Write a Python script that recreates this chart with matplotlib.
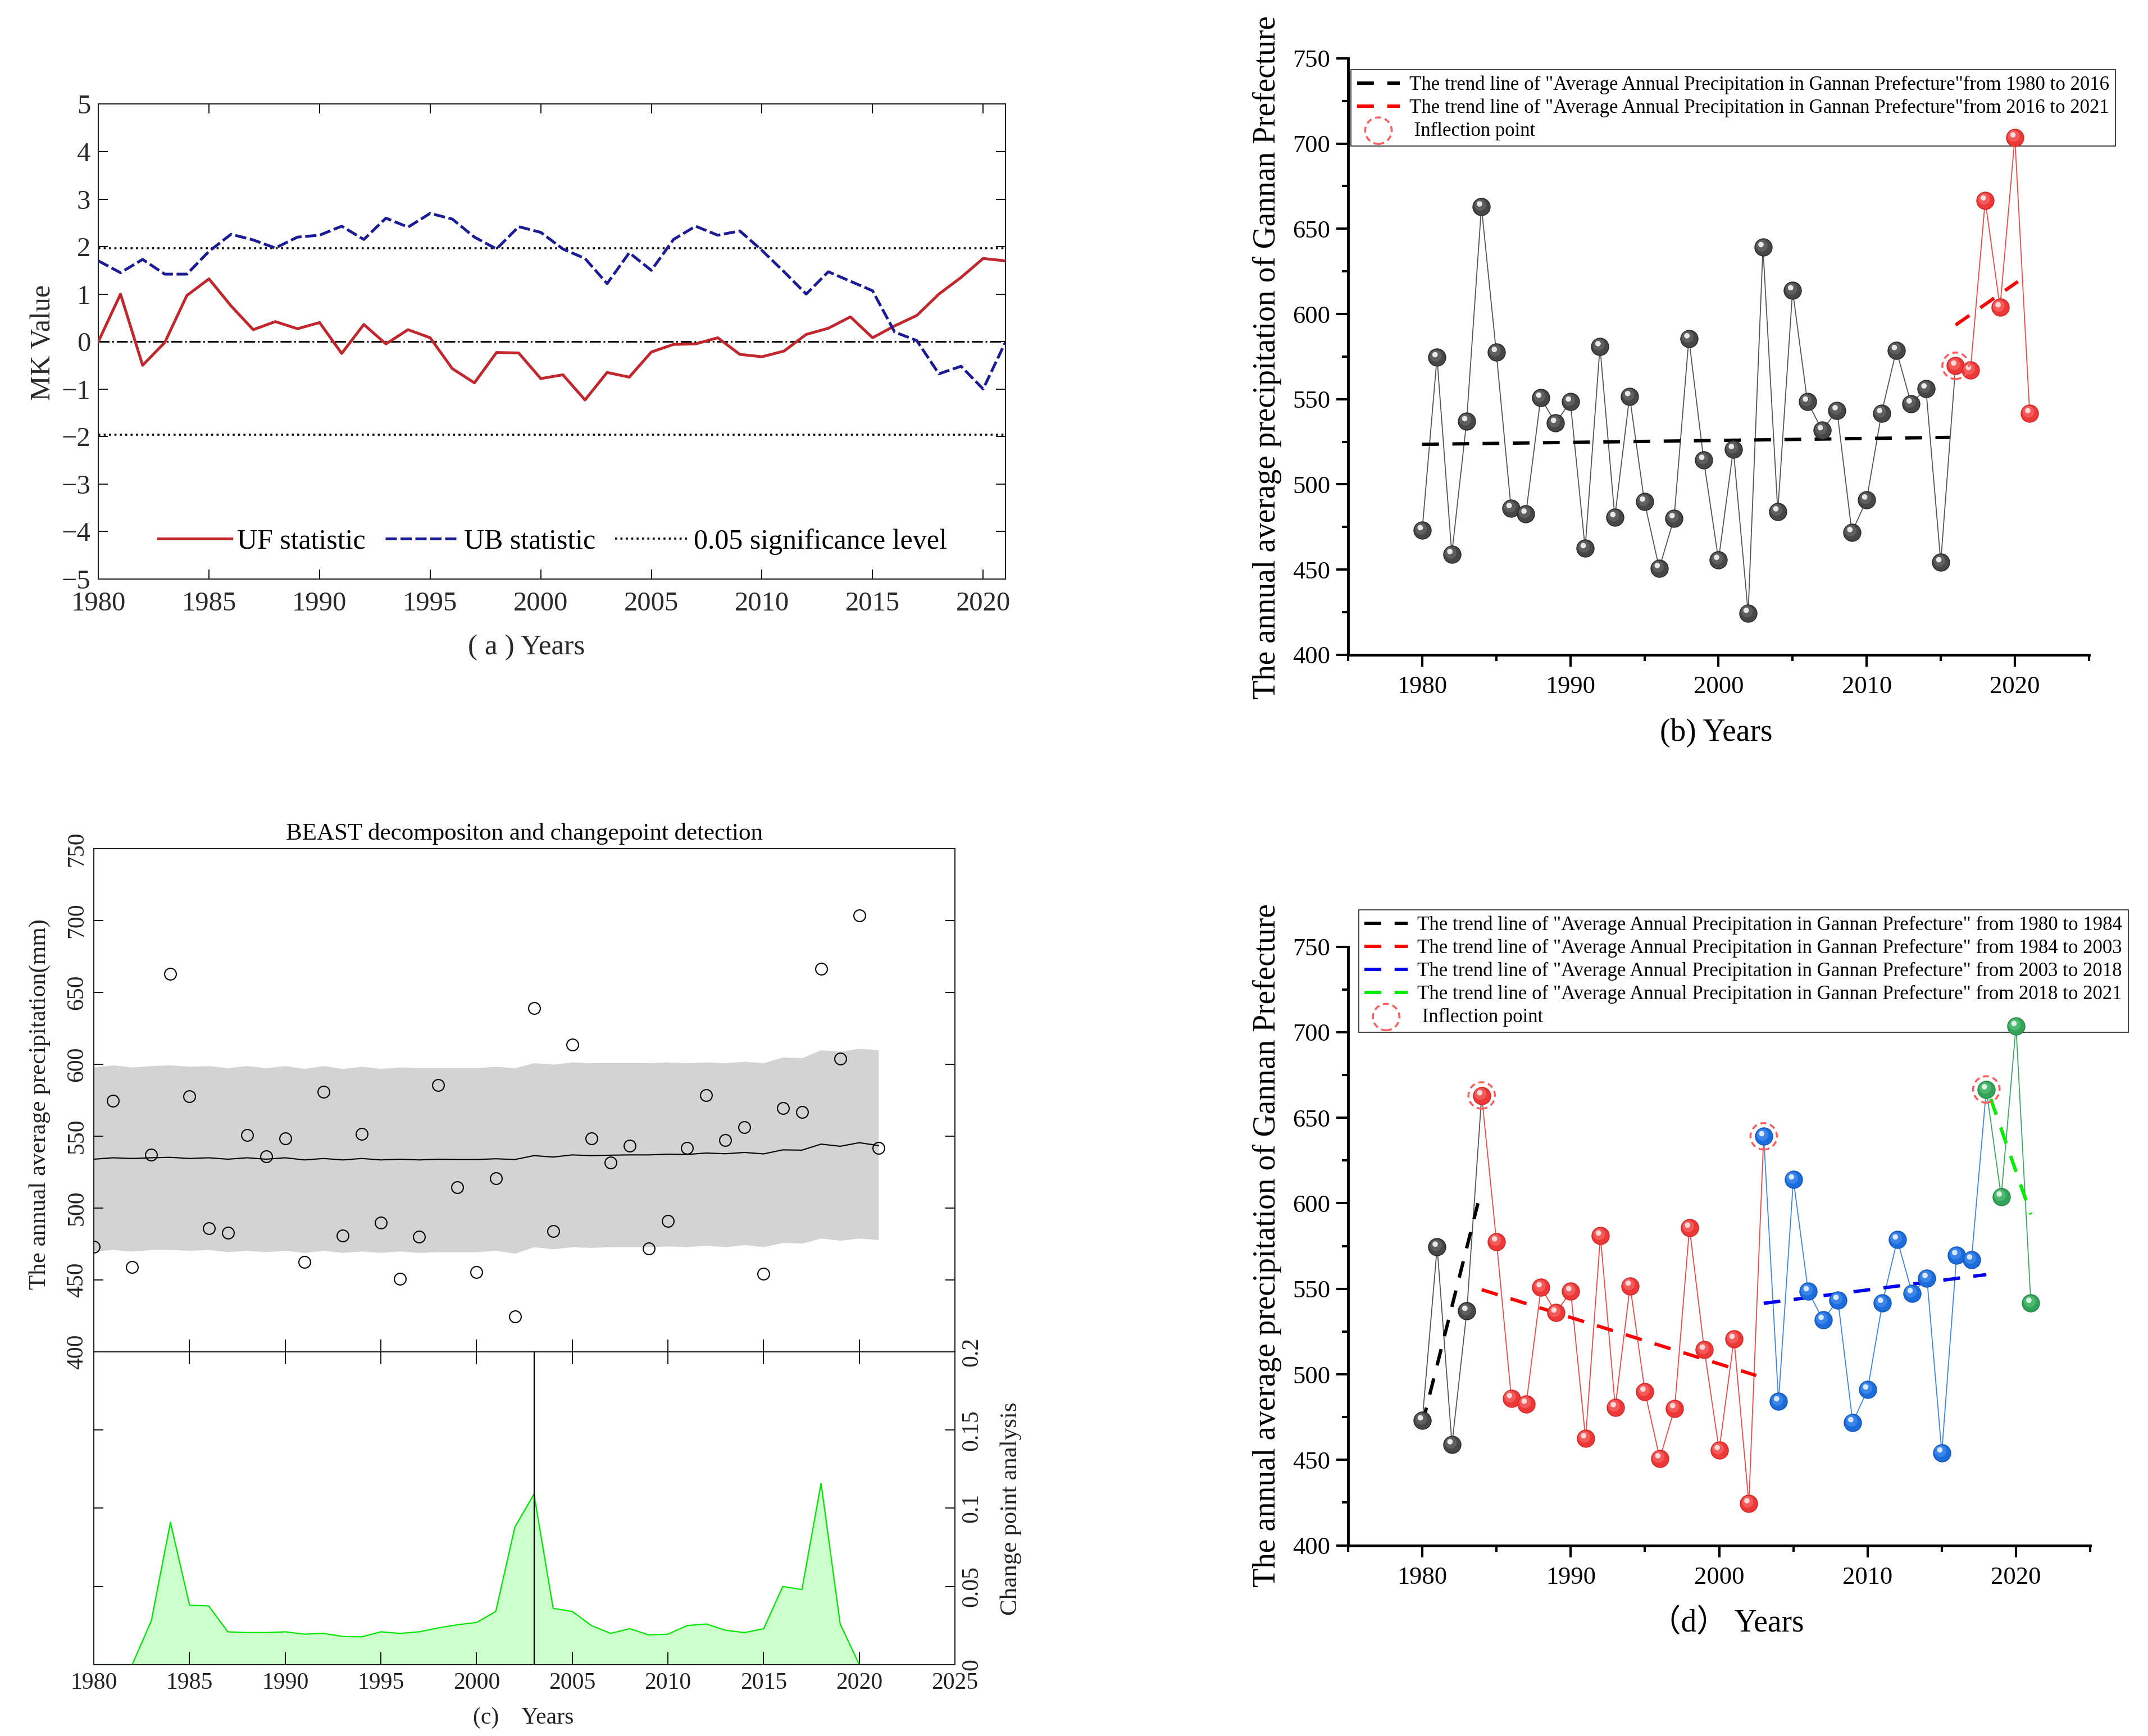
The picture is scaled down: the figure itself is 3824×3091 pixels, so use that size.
import matplotlib
matplotlib.use('Agg')
import matplotlib.pyplot as plt
from matplotlib.ticker import MultipleLocator
from matplotlib.transforms import offset_copy

plt.rcParams['font.family'] = ['Liberation Serif', 'Noto Sans CJK SC', 'DejaVu Sans']

# ---------------- data ----------------
years = list(range(1980, 2022))

precip = [473, 574.5, 459, 537, 663, 577.6, 486, 482.7, 550.8, 536,
          548.5, 462.5, 581, 480.7, 551.7, 489.8, 450.8, 480.1, 585.6, 514.3,
          455.6, 520.6, 424.5, 639.1, 484.1, 613.8, 548.5, 531.7, 543.4, 471.9,
          491, 541.7, 578.7, 547.4, 556.2, 454.2, 569.6, 567, 666.5, 603.8,
          703.5, 541.7]

uf_stat = [0.0, 1.0, -0.5, -0.02, 0.97, 1.32, 0.75, 0.25, 0.42, 0.27,
           0.40, -0.25, 0.36, -0.05, 0.25, 0.08, -0.57, -0.87, -0.23, -0.24,
           -0.78, -0.70, -1.23, -0.65, -0.75, -0.22, -0.06, -0.05, 0.08, -0.27,
           -0.32, -0.20, 0.15, 0.28, 0.52, 0.08, 0.33, 0.55, 1.0, 1.35,
           1.75, 1.70]
ub_stat = [1.70, 1.45, 1.73, 1.42, 1.42, 1.90, 2.26, 2.14, 1.97, 2.20,
           2.24, 2.43, 2.15, 2.60, 2.41, 2.70, 2.58, 2.20, 1.95, 2.42,
           2.30, 1.95, 1.75, 1.22, 1.87, 1.50, 2.15, 2.43, 2.24, 2.33,
           1.92, 1.47, 1.00, 1.47, 1.27, 1.07, 0.20, 0.02, -0.68, -0.52,
           -1.00, -0.02]
sig_level = 1.96

beast_trend = [534, 535, 534.5, 535, 535.3, 534.5, 535, 534, 535, 534,
               535, 533.5, 534.5, 533.5, 534.5, 533.5, 534, 533.5, 534, 533.8,
               533.8, 534.3, 533.8, 536.5, 535.5, 537, 536.5, 536.8, 537, 537,
               537.5, 537.3, 538.3, 537.8, 538.7, 537.7, 540.5, 540.3, 544.5, 543,
               545.5, 543.5]
beast_hi = [598, 599.5, 598, 599, 599.5, 598.5, 599, 597.5, 599, 597.5,
            599, 597, 599, 597, 598.5, 597, 598, 597.5, 597.5, 597.5,
            597.5, 598.5, 597.5, 601, 600, 601.5, 601, 601, 601, 601,
            601.5, 601, 601.5, 601, 602, 601, 605, 604.5, 610, 609,
            611, 610]
beast_lo = [470, 471, 470, 471, 471, 470.5, 471, 469.5, 470.5, 469.5,
            470.5, 469, 470.5, 469, 470, 469, 470, 469, 469.5, 469.5,
            469.5, 470.5, 468.5, 473, 471.5, 473, 472.5, 473, 473, 473,
            473.5, 473, 474, 473, 474.5, 473, 476, 475.5, 479, 477.5,
            479, 478]
cp_prob = [0, 0, 0, 0.028, 0.091, 0.038, 0.0375, 0.021, 0.0205, 0.0205,
           0.021, 0.0195, 0.020, 0.018, 0.0178, 0.021, 0.020, 0.021, 0.0235, 0.0255,
           0.027, 0.034, 0.088, 0.109, 0.036, 0.034, 0.025, 0.020, 0.023, 0.019,
           0.0195, 0.025, 0.026, 0.022, 0.0205, 0.023, 0.050, 0.048, 0.116, 0.026,
           0.0, 0.0]
cp_year = 2003

# panel (b) segmentation and trends
b_break = 2016
b_trend1_x, b_trend1_y = [1980, 2015.6], [523.5, 527.6]
b_trend2_x, b_trend2_y = [2016, 2020.2], [593.5, 619]
b_labels = ['The trend line of "Average Annual Precipitation in Gannan Prefecture"from 1980 to 2016',
            'The trend line of "Average Annual Precipitation in Gannan Prefecture"from 2016 to 2021',
            ' Inflection point']

# panel (d) segmentation and trends
d_breaks = [1980, 1984, 2003, 2018, 2021]
d_trend_x = [[1980, 1983.75], [1984, 2002.5], [2003, 2018], [2018.3, 2021]]
d_trend_y = [[471, 600], [549.5, 499.3], [541.5, 558.3], [661, 593.5]]
d_labels = ['The trend line of "Average Annual Precipitation in Gannan Prefecture" from 1980 to 1984',
            'The trend line of "Average Annual Precipitation in Gannan Prefecture" from 1984 to 2003',
            'The trend line of "Average Annual Precipitation in Gannan Prefecture" from 2003 to 2018',
            'The trend line of "Average Annual Precipitation in Gannan Prefecture" from 2018 to 2021',
            ' Inflection point']

# ---------------- figure ----------------
fig = plt.figure(figsize=(38.24, 30.91), dpi=100)

# ===== panel (a) =====
axa = fig.add_axes([0.0458, 0.6665, 0.4222, 0.2735])
axa.plot(years, uf_stat, color='#c1272d', lw=3.6, label='UF statistic', zorder=4)
axa.plot(years, ub_stat, color='#1b1b96', lw=3.6, dashes=(4, 1.3), label='UB statistic', zorder=4)
axa.axhline(sig_level, color='k', ls=':', lw=2.6, label='0.05 significance level')
axa.axhline(-sig_level, color='k', ls=':', lw=2.6)
axa.axhline(0, color='k', ls='-.', lw=2.2)
axa.set_xlim(1980, 2021)
axa.set_ylim(-5, 5)
axa.xaxis.set_major_locator(MultipleLocator(5))
axa.yaxis.set_major_locator(MultipleLocator(1))
axa.tick_params(direction='in', top=True, right=True, length=12, width=1.3,
                labelsize=35, labelcolor='#2a2a2a', pad=10)
axa.tick_params(axis='x', pad=16)
for sp in axa.spines.values():
    sp.set_linewidth(1.5)
    sp.set_color('#222222')
axa.legend(loc='center', bbox_to_anchor=(0.501, 0.079), ncol=3, frameon=False,
           fontsize=36, handlelength=2.6, columnspacing=0.7, handletextpad=0.2)
fig.text(0.020, 0.8027, 'MK Value', rotation=90, ha='center', va='center',
         fontsize=36, color='#2a2a2a')
fig.text(0.245, 0.627, '( a ) Years', ha='center', va='center', fontsize=37, color='#2a2a2a')


def spheres(ax, x, y, base, edge, mid, hi, s=490):
    ax.scatter(x, y, s=s, c=base, edgecolors=edge, linewidths=1.2, zorder=5)
    tr1 = offset_copy(ax.transData, fig=fig, x=-1.5, y=2.0, units='points')
    ax.scatter(x, y, s=s * 0.45, c=mid, edgecolors='none', transform=tr1, zorder=6)
    tr2 = offset_copy(ax.transData, fig=fig, x=-2.5, y=3.5, units='points')
    ax.scatter(x, y, s=s * 0.10, c=hi, edgecolors='none', transform=tr2, zorder=7)


def origin_axes(ax):
    ax.spines['top'].set_visible(False)
    ax.spines['right'].set_visible(False)
    for k in ('left', 'bottom'):
        ax.spines[k].set_linewidth(3.5)
        ax.spines[k].set_color('black')
    ax.set_xlim(1975, 2025)
    ax.set_ylim(400, 750)
    ax.xaxis.set_major_locator(MultipleLocator(10))
    ax.xaxis.set_minor_locator(MultipleLocator(5))
    ax.yaxis.set_major_locator(MultipleLocator(50))
    ax.yaxis.set_minor_locator(MultipleLocator(25))
    ax.tick_params(which='major', direction='out', length=15, width=3, labelsize=32, pad=8)
    ax.tick_params(which='minor', direction='out', length=8, width=3)
    ax.tick_params(axis='x', which='major', pad=12)


GREY = dict(base='#474747', edge='#2e2e2e', mid='#5f5f5f', hi='#e8e8e8')
RED = dict(base='#ee3838', edge='#d42a2a', mid='#f35a5a', hi='#ffd8d8')
BLUE = dict(base='#1c6cdc', edge='#1659bf', mid='#3a84ea', hi='#d8e8ff')
GREEN = dict(base='#34a35a', edge='#2a8a4b', mid='#4cb870', hi='#d8f3e0')
LINE = {'grey': '#555555', 'red': '#f04848', 'blue': '#3f86e4', 'green': '#3aa85e'}
INFL = '#ff5c5c'

LEG_KW = dict(loc='upper left', borderaxespad=0, fontsize=25, scatterpoints=1,
              fancybox=False, framealpha=1, edgecolor='#333333', handlelength=2.2,
              handletextpad=0.5, labelspacing=0.22, borderpad=0.3)

# ===== panel (b) =====
axb = fig.add_axes([0.6276, 0.6228, 0.3449, 0.3436])
origin_axes(axb)
ib = years.index(b_break)
axb.plot(years[:ib + 1], precip[:ib + 1], color=LINE['grey'], lw=1.3, zorder=3)
axb.plot(years[ib:], precip[ib:], color=LINE['red'], lw=1.3, zorder=3)
spheres(axb, years[:ib], precip[:ib], **GREY)
spheres(axb, years[ib:], precip[ib:], **RED)
lb1, = axb.plot(b_trend1_x, b_trend1_y, color='black', lw=4.3, dashes=(5, 4), zorder=4)
lb2, = axb.plot(b_trend2_x, b_trend2_y, color='#ff0000', lw=4.3, dashes=(5, 4), zorder=4)
infl_b = axb.scatter([b_break], [precip[ib]], s=1150, facecolors='none', edgecolors=INFL,
                     linewidths=2.5, linestyles=(0, (3, 2)), zorder=8)
leg_b = axb.legend([lb1, lb2, infl_b], b_labels, bbox_to_anchor=(0.629, 0.9599),
                   bbox_transform=fig.transFigure, **LEG_KW)
leg_b.get_frame().set_linewidth(1.3)
leg_b.set_zorder(4.5)
fig.text(0.590, 0.794, 'The annual average precipitation of Gannan Prefecture', rotation=90,
         ha='center', va='center', fontsize=40)
fig.text(0.799, 0.578, '(b) Years', ha='center', va='center', fontsize=40)

# ===== panel (c) =====
axc1 = fig.add_axes([0.0437, 0.2213, 0.4009, 0.2898])
axc1.fill_between(years, beast_lo, beast_hi, color='#d3d3d3', lw=0, zorder=1)
axc1.plot(years, beast_trend, color='black', lw=1.5, zorder=2)
axc1.plot(years, precip, 'o', mfc='none', mec='black', ms=15, mew=1.5, zorder=3)
axc1.set_xlim(1980, 2025)
axc1.set_ylim(400, 750)
axc1.xaxis.set_major_locator(MultipleLocator(5))
axc1.yaxis.set_major_locator(MultipleLocator(50))
axc1.tick_params(axis='y', direction='in', left=True, right=True, length=12, width=1.3,
                 labelsize=30, labelrotation=90, labelcolor='#222222', pad=8)
for lbl in axc1.get_yticklabels():
    lbl.set_va('center')
axc1.tick_params(axis='x', direction='in', bottom=True, top=False, labelbottom=False,
                 length=16, width=1.3)
axc1.set_title('BEAST decompositon and changepoint detection', fontsize=31, pad=12)

axc2 = fig.add_axes([0.0437, 0.0411, 0.4009, 0.1802])
axc2.fill_between(years, 0, cp_prob, color='#ccffcc', lw=0, zorder=1)
axc2.plot(years, cp_prob, color='#00e600', lw=1.6, zorder=2)
axc2.vlines(cp_year, 0, 0.2, color='black', lw=1.6, zorder=3)
axc2.set_xlim(1980, 2025)
axc2.set_ylim(0, 0.2)
axc2.xaxis.set_major_locator(MultipleLocator(5))
axc2.yaxis.set_major_locator(MultipleLocator(0.05))
axc2.yaxis.set_major_formatter(plt.FuncFormatter(lambda v, p: ('%g' % round(v, 2))))
axc2.tick_params(axis='y', direction='in', left=True, right=True, labelleft=False,
                 labelright=True, length=12, width=1.3, labelsize=30, labelrotation=90,
                 labelcolor='#222222', pad=8)
for lbl in axc2.get_yticklabels(which='both'):
    lbl.set_va('center')
axc2.tick_params(axis='x', direction='in', bottom=True, top=True, length=16, width=1.3,
                 labelsize=30, labelcolor='#222222', pad=10)
for ax in (axc1, axc2):
    for sp in ax.spines.values():
        sp.set_linewidth(1.5)
        sp.set_color('#222222')
fig.text(0.0185, 0.364, 'The annual average precipitation(mm)', rotation=90, ha='center',
         va='center', fontsize=31, color='#222222')
fig.text(0.4707, 0.131, 'Change point analysis', rotation=90, ha='center', va='center',
         fontsize=31, color='#222222')
fig.text(0.2437, 0.0104, '(c)    Years', ha='center', va='center', fontsize=30, color='#222222')

# ===== panel (d) =====
axd = fig.add_axes([0.6276, 0.1098, 0.3455, 0.3449])
origin_axes(axd)
seg_styles = [(LINE['grey'], GREY), (LINE['red'], RED), (LINE['blue'], BLUE), (LINE['green'], GREEN)]
for k in range(4):
    i0 = years.index(d_breaks[k])
    i1 = years.index(d_breaks[k + 1])
    last = (k == 3)
    axd.plot(years[i0:i1 + 1], precip[i0:i1 + 1], color=seg_styles[k][0], lw=1.3, zorder=3)
    mk_end = i1 + 1 if last else i1
    spheres(axd, years[i0:mk_end], precip[i0:mk_end], **seg_styles[k][1])
trend_cols = ['black', '#ff0000', '#0000ee', '#00ee00']
d_handles = []
for k in range(4):
    h, = axd.plot(d_trend_x[k], d_trend_y[k], color=trend_cols[k], lw=4.3, dashes=(5, 4), zorder=4)
    d_handles.append(h)
infl_years = d_breaks[1:4]
infl_d = axd.scatter(infl_years, [precip[years.index(y)] for y in infl_years], s=1150,
                     facecolors='none', edgecolors=INFL, linewidths=2.5,
                     linestyles=(0, (3, 2)), zorder=8)
leg_d = axd.legend(d_handles + [infl_d], d_labels, bbox_to_anchor=(0.6326, 0.4759),
                   bbox_transform=fig.transFigure, **LEG_KW)
leg_d.get_frame().set_linewidth(1.3)
leg_d.set_zorder(4.5)
fig.text(0.590, 0.2827, 'The annual average precipitation of Gannan Prefecture', rotation=90,
         ha='center', va='center', fontsize=40)
fig.text(0.804, 0.065, '（d） Years', ha='center', va='center', fontsize=40)

fig.savefig('out.png', dpi=100)
